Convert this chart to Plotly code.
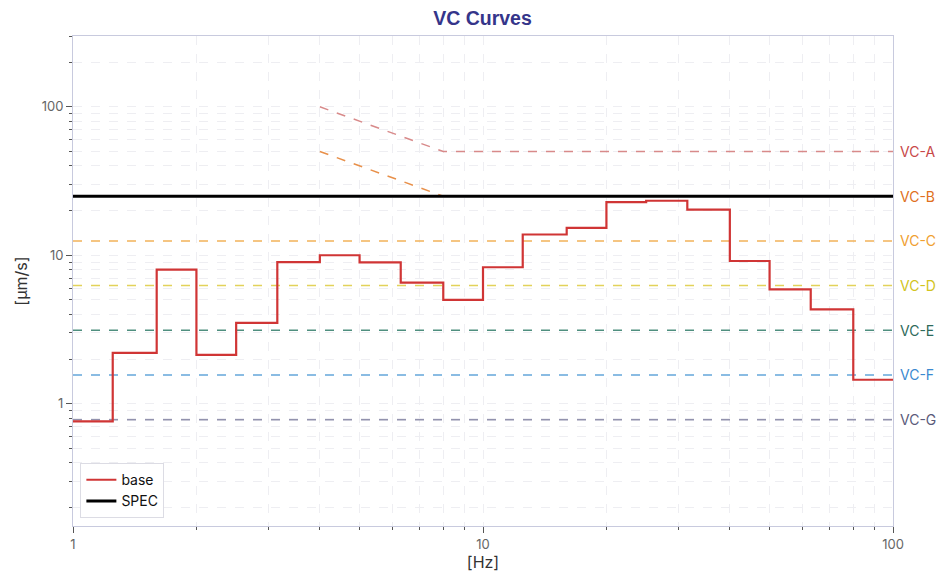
import numpy as np
import plotly.graph_objects as go

# 1/3 octave band lower edges [Hz] and measured base level [um/s]
band_hz = [1, 1.25, 1.6, 2, 2.5, 3.15, 4, 5, 6.3, 8, 10, 12.5, 16, 20, 25, 31.5, 40, 50, 63, 80, 100]
base_um = [0.76, 2.2, 8.0, 2.13, 3.5, 9.0, 10.0, 8.95, 6.55, 5.0, 8.3, 13.8, 15.3, 22.8, 23.3, 20.3, 9.15, 5.9, 4.32, 1.45, 1.45]

spec_um = 25

vc_names = ['VC-A', 'VC-B', 'VC-C', 'VC-D', 'VC-E', 'VC-F', 'VC-G']
vc_hz = [[4, 8, 100], [4, 8, 100], [1, 100], [1, 100], [1, 100], [1, 100], [1, 100]]
vc_um = [[100, 50, 50], [50, 25, 25], [12.5, 12.5], [6.25, 6.25], [3.125, 3.125], [1.5625, 1.5625], [0.78, 0.78]]
vc_line = ['#d88a8a', '#e8904a', '#f2b35a', '#e2d25a', '#4f8f7f', '#64a6da', '#9292ad']
vc_text = ['#c84848', '#e07020', '#f0a030', '#d2c420', '#2e6a5a', '#3a8ad0', '#5a5a7a']

fig = go.Figure()

for name, xs, ys, c in zip(vc_names, vc_hz, vc_um, vc_line):
    fig.add_trace(go.Scatter(x=xs, y=ys, mode='lines', name=name, showlegend=False,
                             line=dict(color=c, width=1.5, dash='dash')))

fig.add_trace(go.Scatter(x=band_hz, y=base_um, mode='lines', name='base', line_shape='hv',
                         line=dict(color='#d03535', width=2.2)))
fig.add_trace(go.Scatter(x=[1, 100], y=[spec_um, spec_um], mode='lines', name='SPEC',
                         line=dict(color='black', width=3)))

for name, ys, c in zip(vc_names, vc_um, vc_text):
    fig.add_annotation(x=1, xref='paper', y=np.log10(ys[-1]), yref='y', text=name,
                       showarrow=False, xanchor='left', xshift=5,
                       font=dict(family='Inter', size=14, color=c))

grid = dict(showgrid=True, gridcolor='#eeeef2', griddash='dash', gridwidth=1)
x_minor = [2, 3, 4, 5, 6, 7, 8, 9, 20, 30, 40, 50, 60, 70, 80, 90]
y_minor = [0.2, 0.3, 0.4, 0.5, 0.6, 0.7, 0.8, 0.9, 2, 3, 4, 5, 6, 7, 8, 9,
           20, 30, 40, 50, 60, 70, 80, 90, 200, 300]

fig.update_xaxes(type='log', range=[0, 2], tickvals=[1, 10, 100], ticktext=['1', '10', '100'],
                 ticks='outside', ticklen=6, tickcolor='#555', showline=True, linecolor='#c8cade',
                 mirror=True, zeroline=False, **grid,
                 minor=dict(tickvals=x_minor, ticks='outside', ticklen=3, tickcolor='#555', **grid),
                 title=dict(text='[Hz]', font=dict(size=16, color='#333'), standoff=6),
                 tickfont=dict(size=13, color='#666'))
fig.update_yaxes(type='log', range=[np.log10(0.15), np.log10(300)], tickvals=[1, 10, 100],
                 ticktext=['1', '10', '100'],
                 ticks='outside', ticklen=6, tickcolor='#555', showline=True, linecolor='#c8cade',
                 mirror=True, zeroline=False, **grid,
                 minor=dict(tickvals=y_minor, ticks='outside', ticklen=3, tickcolor='#555', **grid),
                 title=dict(text='[µm/s]', font=dict(size=16, color='#333'), standoff=10),
                 tickfont=dict(size=13, color='#666'))

fig.update_layout(
    width=949, height=587,
    margin=dict(l=65, r=64, t=28, b=69),
    paper_bgcolor='white', plot_bgcolor='white',
    font=dict(family='Inter'),
    title=dict(text='<b>VC Curves</b>', x=0.5, xanchor='center', y=0.995, yanchor='top',
               font=dict(family='Liberation Sans', size=19.5, color='#35358a')),
    legend=dict(x=0.009, y=0.016, xanchor='left', yanchor='bottom', bgcolor='white',
                bordercolor='#dcdce4', borderwidth=1, font=dict(size=14, color='#111')),
)

fig.write_html("out.html")
